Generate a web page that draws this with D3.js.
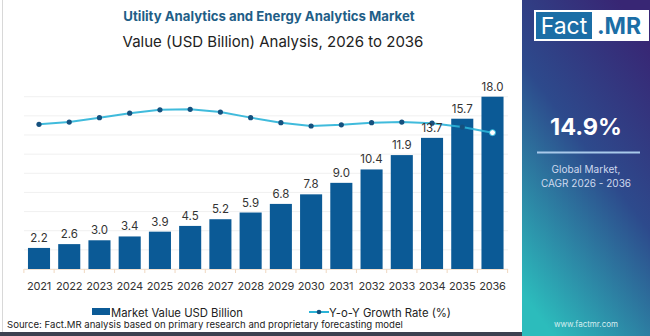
<!DOCTYPE html>
<html><head><meta charset="utf-8">
<script src="https://cdn.jsdelivr.net/npm/d3@7"></script>
<style>body{margin:0;background:#fff;}svg{display:block;font-family:Inter,"Open Sans",sans-serif;}</style>
</head><body>
<svg id="c" width="650" height="336"></svg>
<script>
const years = ["2021","2022","2023","2024","2025","2026","2027","2028","2029","2030","2031","2032","2033","2034","2035","2036"];
const marketValue = [2.2,2.6,3.0,3.4,3.9,4.5,5.2,5.9,6.8,7.8,9.0,10.4,11.9,13.7,15.7,18.0];
const growthRate = [13.2,13.6,14.4,15.2,15.8,15.9,15.4,14.4,13.5,12.9,13.1,13.5,13.6,13.4,12.7,11.7];
const yTicks = [0,2,4,6,8,10,12,14,16,18];
const titleText = "Utility Analytics and Energy Analytics Market";
const subtitleText = "Value (USD Billion) Analysis, 2026 to 2036";
const cagrText = "14.9%";
const legendLabels = ["Market Value USD Billion","Y-o-Y Growth Rate (%)"];
const sourceText = "Source: Fact.MR analysis based on primary research and proprietary forecasting model";

const svg = d3.select("#c");
const step = (492.5-39)/15;
const x = d3.scaleBand().domain(years).range([39-step/2, 492.5+step/2]).paddingInner(0.27).paddingOuter(0.135);
const y = d3.scaleLinear().domain([0,18]).range([269,96.7]);
const y2 = d3.scaleLinear().domain([0,20]).range([197.7,86.5]);

// right panel
const defs = svg.append("defs");
const g = defs.append("linearGradient").attr("id","pg").attr("x1","0.75").attr("y1","0").attr("x2","0.25").attr("y2","1");
g.append("stop").attr("offset","0").attr("stop-color","#382674");
g.append("stop").attr("offset","0.45").attr("stop-color","#2d4a8c");
g.append("stop").attr("offset","1").attr("stop-color","#2cbcbc");
svg.append("rect").attr("x",522).attr("y",0).attr("width",128).attr("height",336).attr("fill","url(#pg)");

// left border and bottom line
svg.append("line").attr("x1",2.5).attr("x2",2.5).attr("y1",0).attr("y2",332).attr("stroke","#d8d8d8").attr("stroke-width",1);
svg.append("rect").attr("x",0).attr("y",332).attr("width",522).attr("height",4).attr("fill","#3c4150");

// gridlines
svg.append("g").selectAll("line").data(yTicks).join("line")
  .attr("x1",24).attr("x2",508).attr("y1",d=>y(d)).attr("y2",d=>y(d))
  .attr("stroke","#f0f0f0").attr("stroke-width",1);

// x axis
const xa = svg.append("g").attr("transform","translate(0,269)")
  .call(d3.axisBottom(x).tickSize(0).tickPadding(13));
xa.select(".domain").attr("stroke","#f2e2d2");
xa.selectAll("text").attr("font-size",11).attr("letter-spacing","-0.2").attr("fill","#333").attr("font-family","Inter,sans-serif");
svg.append("g").selectAll("line").data(d3.range(years.length+1)).join("line")
  .attr("x1",i=>x.range()[0]+i*x.step()).attr("x2",i=>x.range()[0]+i*x.step())
  .attr("y1",269).attr("y2",273).attr("stroke","#f0d8c0");

// bars
svg.append("g").selectAll("rect").data(years).join("rect")
  .attr("x",d=>x(d)).attr("width",x.bandwidth())
  .attr("y",(d,i)=>y(marketValue[i])).attr("height",(d,i)=>269-y(marketValue[i]))
  .attr("fill","#0b5a96");

// line
const line = d3.line().x((d,i)=>x(years[i])+x.bandwidth()/2).y(d=>y2(d));
svg.append("path").datum(growthRate).attr("d",line).attr("fill","none").attr("stroke","#2bb4d8").attr("stroke-width",2).attr("opacity",0.9);
svg.append("g").selectAll("circle").data(growthRate).join("circle")
  .attr("cx",(d,i)=>x(years[i])+x.bandwidth()/2).attr("cy",d=>y2(d))
  .attr("r",(d,i)=>i===growthRate.length-1?3:2.6)
  .attr("fill",(d,i)=>i===growthRate.length-1?"#fff":"#15507e")
  .attr("stroke",(d,i)=>i===growthRate.length-1?"#2bb4d8":"none").attr("stroke-width",1);

// value labels
svg.append("g").selectAll("text").data(years).join("text")
  .attr("x",d=>x(d)+x.bandwidth()/2).attr("y",(d,i)=>y(marketValue[i])-6)
  .attr("text-anchor","middle").attr("font-size",11.5).attr("fill","#333")
  .text((d,i)=>marketValue[i].toFixed(1));

// titles
svg.append("text").attr("x",269).attr("y",21).attr("text-anchor","middle").attr("font-size",13.2).attr("font-weight","bold").attr("fill","#1f5e87").text(titleText);
svg.append("text").attr("x",273).attr("y",47).attr("text-anchor","middle").attr("font-size",15).attr("fill","#222").text(subtitleText);

// legend
svg.append("rect").attr("x",92).attr("y",308).attr("width",18).attr("height",7).attr("fill","#0b5a96");
svg.append("text").attr("x",111).attr("y",316.5).attr("font-size",11.3).attr("fill","#222").text(legendLabels[0]);
svg.append("line").attr("x1",309).attr("x2",329).attr("y1",312).attr("y2",312).attr("stroke","#2bb4d8").attr("stroke-width",2);
svg.append("circle").attr("cx",319).attr("cy",312).attr("r",2.3).attr("fill","#15507e");
svg.append("text").attr("x",329).attr("y",316.5).attr("font-size",11.3).attr("fill","#222").text(legendLabels[1]);
svg.append("text").attr("x",7).attr("y",328).attr("font-size",9.6).attr("fill","#222").text(sourceText);

// logo
svg.append("rect").attr("x",534).attr("y",10).attr("width",115).attr("height",31).attr("fill","#fff");
svg.append("rect").attr("x",536).attr("y",12).attr("width",56).attr("height",27).attr("fill","#1b6ea6");
svg.append("text").attr("x",564).attr("y",34).attr("text-anchor","middle").attr("font-size",23).attr("fill","#fff").attr("font-family","Inter,sans-serif").text("Fact");
svg.append("text").attr("x",619).attr("y",34).attr("text-anchor","middle").attr("font-size",23).attr("font-weight","bold").attr("fill","#1b6ea6").attr("font-family","Inter,sans-serif").text(".MR");

// cagr
svg.append("text").attr("x",586).attr("y",135).attr("text-anchor","middle").attr("font-size",23.5).attr("font-weight","bold").attr("fill","#fff").text(cagrText);
svg.append("line").attr("x1",537).attr("x2",640).attr("y1",152.5).attr("y2",152.5).attr("stroke","#a9c9ea").attr("stroke-width",2);
svg.append("text").attr("x",586).attr("y",173).attr("text-anchor","middle").attr("font-size",10).attr("fill","#cfd9ee").text("Global Market,");
svg.append("text").attr("x",586).attr("y",187).attr("text-anchor","middle").attr("font-size",10).attr("fill","#cfd9ee").text("CAGR 2026 - 2036");
svg.append("text").attr("x",586).attr("y",327).attr("text-anchor","middle").attr("font-size",8).attr("fill","#d5eef0").text("www.factmr.com");
</script>
</body></html>
